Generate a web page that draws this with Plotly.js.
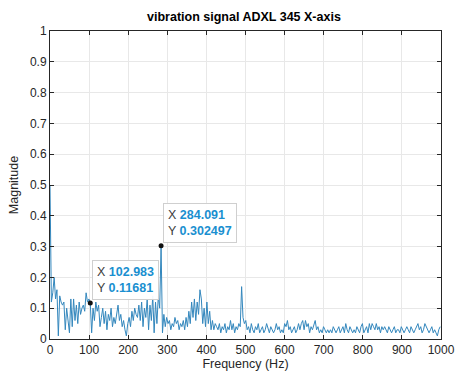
<!DOCTYPE html>
<html>
<head>
<meta charset="utf-8">
<script src="https://cdn.plot.ly/plotly-3.0.1.min.js"></script>
<style>html,body{margin:0;padding:0;background:#fff;}#chart{width:456px;height:376px;}</style>
</head>
<body>
<div id="chart"></div>
<script>
var freqStep = 3.55114;
var magnitude = [
0.50,0.12,0.15,0.20,0.13,0.16,0.01,0.14,0.12,0.11,
0.12,0.03,0.10,0.05,0.02,0.13,0.04,0.13,0.06,0.11,
0.05,0.12,0.08,0.10,0.11,0.09,0.15,0.12,0.13,0.11681,
0.02,0.10,0.06,0.12,0.09,0.11,0.04,0.07,0.10,0.05,
0.09,0.03,0.08,0.06,0.10,0.04,0.07,0.05,0.09,0.11,
0.06,0.08,0.04,0.06,0.03,0.01,0.05,0.07,0.04,0.09,
0.06,0.10,0.08,0.07,0.11,0.06,0.12,0.04,0.10,0.07,
0.13,0.03,0.11,0.06,0.14,0.02,0.12,0.05,0.14,0.10,
0.302497,0.02,0.08,0.04,0.07,0.05,0.06,0.03,0.05,0.04,
0.07,0.05,0.06,0.03,0.05,0.04,0.06,0.03,0.07,0.04,
0.09,0.05,0.12,0.07,0.13,0.06,0.12,0.08,0.16,0.13,
0.05,0.10,0.04,0.12,0.05,0.09,0.03,0.06,0.03,0.05,
0.04,0.03,0.05,0.02,0.04,0.03,0.05,0.02,0.04,0.03,
0.06,0.03,0.05,0.02,0.04,0.03,0.05,0.04,0.17,0.07,
0.05,0.06,0.03,0.04,0.02,0.05,0.03,0.02,0.04,0.03,
0.05,0.02,0.03,0.04,0.02,0.03,0.05,0.03,0.02,0.04,
0.03,0.02,0.03,0.05,0.03,0.04,0.02,0.03,0.02,0.05,
0.04,0.06,0.03,0.04,0.02,0.03,0.04,0.02,0.03,0.05,
0.03,0.05,0.06,0.03,0.06,0.04,0.05,0.02,0.04,0.03,
0.05,0.06,0.03,0.04,0.02,0.03,0.02,0.04,0.03,0.02,
0.03,0.02,0.03,0.02,0.04,0.03,0.02,0.03,0.04,0.02,
0.03,0.04,0.02,0.05,0.03,0.02,0.04,0.03,0.02,0.03,
0.02,0.04,0.03,0.02,0.04,0.05,0.02,0.03,0.04,0.02,
0.05,0.03,0.05,0.04,0.03,0.05,0.03,0.04,0.02,0.04,
0.03,0.04,0.03,0.02,0.04,0.03,0.02,0.03,0.04,0.02,
0.03,0.03,0.02,0.04,0.03,0.02,0.03,0.04,0.03,0.02,
0.04,0.03,0.02,0.03,0.04,0.05,0.03,0.04,0.02,0.03,
0.05,0.04,0.03,0.02,0.03,0.04,0.02,0.03,0.02,0.01,
0.03,0.04
];
var freq = magnitude.map(function(v,i){return i*freqStep;});
var tipX = [102.983, 284.091];
var tipY = [0.11681, 0.302497];
var xTicks = [0,100,200,300,400,500,600,700,800,900,1000];
var yTicks = [0,0.1,0.2,0.3,0.4,0.5,0.6,0.7,0.8,0.9,1];

var FONT = 'Arial, Liberation Sans, Helvetica, sans-serif';
var tipColor = '#1a8fd0';
var annotations = tipX.map(function(x,k){
  return {
    x: x, y: tipY[k], xref:'x', yref:'y', showarrow:false,
    xanchor:'left', yanchor:'bottom', xshift:2, yshift:3, align:'left',
    text: 'X <span style="color:'+tipColor+'"><b>'+tipX[k]+'</b></span><br>Y <span style="color:'+tipColor+'"><b>'+tipY[k]+'</b></span>',
    font:{family:FONT, size:12.5, color:'#404040'},
    bgcolor:'rgba(255,255,255,0.95)', bordercolor:'#cfcfcf', borderwidth:1, borderpad:4
  };
});

var axisCommon = {
  showgrid:true, gridcolor:'#e8e8e8', gridwidth:1,
  showline:true, linecolor:'#262626', linewidth:1, mirror:'ticks',
  ticks:'inside', ticklen:4, tickcolor:'#262626', zeroline:false,
  tickfont:{family:FONT, size:12, color:'#262626'}
};

var layout = {
  width:456, height:376,
  margin:{l:50, r:15, t:31, b:37},
  paper_bgcolor:'#fff', plot_bgcolor:'#fff',
  showlegend:false,
  title:{text:'<b>vibration signal ADXL 345 X-axis</b>', x:0.535, xanchor:'center', y:0.955, yref:'container', yanchor:'middle',
    font:{family:FONT, size:12.5, color:'#000'}},
  xaxis: Object.assign({}, axisCommon, {range:[0,1000], tickvals:xTicks,
    title:{text:'Frequency (Hz)', standoff:2, font:{family:FONT, size:12.5, color:'#262626'}}}),
  yaxis: Object.assign({}, axisCommon, {range:[0,1], tickvals:yTicks,
    title:{text:'Magnitude', standoff:8, font:{family:FONT, size:12.5, color:'#262626'}}}),
  annotations: annotations
};

var data = [
  {x:freq, y:magnitude, type:'scatter', mode:'lines', line:{color:'#3387bd', width:1}, hoverinfo:'skip'},
  {x:tipX, y:tipY, type:'scatter', mode:'markers', marker:{color:'#111', size:5}, hoverinfo:'skip'}
];

Plotly.newPlot('chart', data, layout, {displayModeBar:false, staticPlot:true});
</script>
</body>
</html>
